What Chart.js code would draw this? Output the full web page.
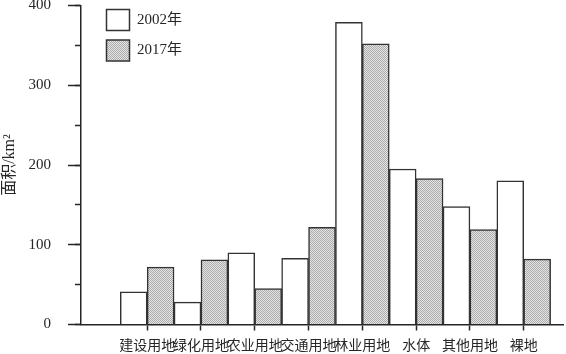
<!DOCTYPE html>
<html>
<head>
<meta charset="utf-8">
<script src="https://cdn.jsdelivr.net/npm/chart.js@4/dist/chart.umd.min.js"></script>
<style>
  body { margin: 0; background: #fff; }
</style>
</head>
<body>
<canvas id="landChart" width="566" height="354"></canvas>
<script>
// land use area (km2), 2002 vs 2017
const categories = ['建设用地', '绿化用地', '农业用地', '交通用地', '林业用地', '水体', '其他用地', '裸地'];
const area2002 = [41, 28, 90, 83, 379, 195, 148, 180];
const area2017 = [72, 81, 45, 122, 352, 183, 119, 82];
const yTicks = [0, 100, 200, 300, 400];

const serif = '"Liberation Serif", "Noto Sans CJK SC", serif';
const ink = '#262626';

// fine hatch (reads as light grey) for the 2017 bars
function makeHatch(ctx) {
  const c = document.createElement('canvas');
  c.width = 2; c.height = 2;
  const g = c.getContext('2d');
  g.fillStyle = '#e4e4e4';
  g.fillRect(0, 0, 2, 2);
  g.fillStyle = '#acacac';
  g.fillRect(0, 0, 1, 1);
  g.fillRect(1, 1, 1, 1);
  return ctx.createPattern(c, 'repeat');
}

// move the legend a bit right inside the plot
const legendShift = {
  id: 'legendShift',
  afterLayout(chart) {
    chart.legend.left = chart.chartArea.left + 16;
  }
};

const ctx = document.getElementById('landChart').getContext('2d');
Chart.defaults.font.family = serif;

new Chart(ctx, {
  type: 'bar',
  data: {
    datasets: [
      {
        label: '2002年',
        data: area2002.map((v, i) => ({ x: i + 1, y: v })),
        backgroundColor: '#ffffff',
        borderColor: '#333',
        borderWidth: 1.5
      },
      {
        label: '2017年',
        data: area2017.map((v, i) => ({ x: i + 1, y: v })),
        backgroundColor: makeHatch(ctx),
        borderColor: '#333',
        borderWidth: 1.5
      }
    ]
  },
  options: {
    responsive: false,
    animation: false,
    categoryPercentage: 1,
    barPercentage: 1,
    layout: { padding: { top: 5.5, right: 3, bottom: 0, left: 0 } },
    plugins: {
      tooltip: { enabled: false },
      legend: {
        position: 'chartArea',
        align: 'start',
        labels: {
          boxWidth: 23,
          boxHeight: 21,
          padding: 9.5,
          color: ink,
          font: { family: serif, size: 15 }
        }
      }
    },
    scales: {
      x: {
        type: 'linear',
        min: -0.23,
        max: 8.73,
        offset: false,
        afterBuildTicks: s => { s.ticks = categories.map((c, i) => ({ value: i + 1 })); },
        afterFit: s => { s.height = 29.5; s.paddingLeft = 0; s.paddingRight = 0; },
        grid: { drawOnChartArea: false, offset: false, tickLength: 6, tickColor: ink, tickWidth: 1.5 },
        border: { color: ink, width: 1.5 },
        ticks: {
          autoSkip: false,
          maxRotation: 0,
          padding: 7,
          color: ink,
          font: { family: serif, size: 14 },
          callback: (v, i) => categories[i]
        }
      },
      y: {
        min: 0,
        max: 400,
        weight: 1,
        afterBuildTicks: s => { s.ticks = yTicks.map(v => ({ value: v })); },
        afterFit: s => { s.width = 81; s.paddingTop = 0; s.paddingBottom = 0; },
        grid: { drawOnChartArea: false, tickLength: 13, tickColor: ink, tickWidth: 1.5 },
        border: { color: ink, width: 1.5 },
        ticks: { padding: 17, color: ink, font: { family: serif, size: 15 } },
        title: {
          display: true,
          text: '面积/km²',
          color: ink,
          padding: 0,
          font: { family: serif, size: 16 }
        }
      },
      // minor ticks every 50
      yMinor: {
        position: 'left',
        min: 0,
        max: 400,
        weight: 0,
        ticks: { display: false, stepSize: 50 },
        afterFit: s => { s.width = 0; s.paddingTop = 0; s.paddingBottom = 0; },
        grid: { drawOnChartArea: false, tickLength: 6, tickColor: ink, tickWidth: 1.5 },
        border: { display: false }
      }
    }
  },
  plugins: [legendShift]
});
</script>
</body>
</html>
